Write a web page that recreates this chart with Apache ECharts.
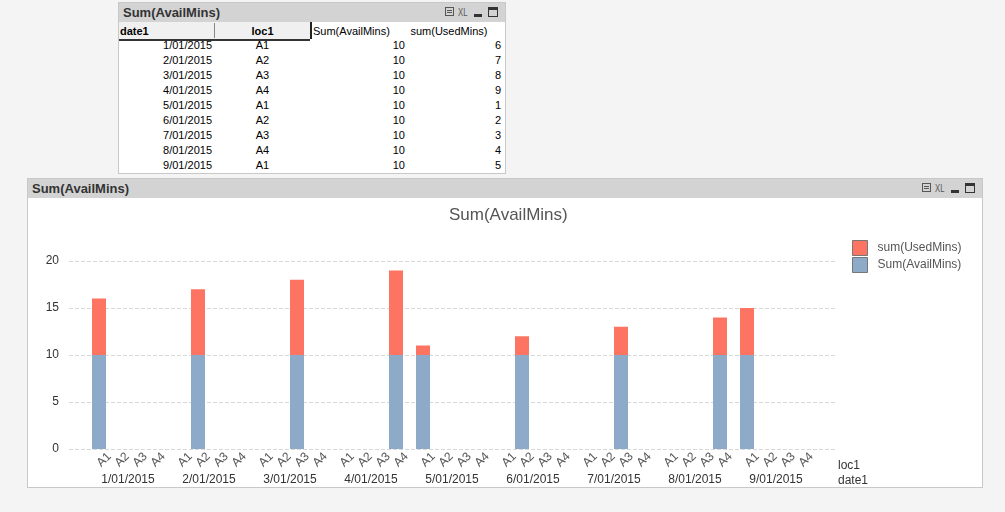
<!DOCTYPE html>
<html>
<head>
<meta charset="utf-8">
<script src="https://cdn.jsdelivr.net/npm/echarts@6/dist/echarts.min.js"></script>
<style>
  html, body { margin:0; padding:0; width:1005px; height:512px; background:#f4f4f4; overflow:hidden;
    font-family:"Liberation Sans", Arial, sans-serif; -webkit-font-smoothing:antialiased; }
  .win { position:absolute; background:#fff; border:1px solid #c8c8c8; box-sizing:border-box; }
  .cap { position:absolute; left:0; right:0; top:0; height:19px; background:#d3d3d3; }
  .cap .t { position:absolute; left:4px; top:2px; font-weight:bold; font-size:13px; color:#333; }
  .icons { position:absolute; right:4px; top:3px; height:13px; }
  .icons span { position:absolute; top:0; }
  .prn { width:9px; height:9px; border:1px solid #555; box-sizing:border-box; top:1px !important; }
  .prn:after { content:""; position:absolute; left:1px; top:2px; width:5px; height:1px; background:#555; box-shadow:0 2px 0 #555; }
  .xl { font-size:11px; color:#555; transform:scaleX(0.7); transform-origin:left top; letter-spacing:0; }
  .min { width:8px; height:3px; background:#333; top:8px !important; }
  .max { width:10px; height:10px; border:1px solid #333; border-top-width:3px; box-sizing:border-box; top:1px !important; }
  .hd { position:absolute; top:19px; height:18px; font-size:11px; line-height:18px; color:#000; }
  .row { position:absolute; font-size:11px; height:15px; line-height:15px; color:#000; }
  #chart { position:absolute; left:0; top:0; width:1005px; height:512px; z-index:5; }
</style>
</head>
<body>
<div class="win" id="tblwin" style="left:118px; top:2px; width:388px; height:172px;">
  <div class="cap"><div class="t">Sum(AvailMins)</div>
    <div class="icons" style="width:56px;">
      <span class="prn" style="left:0;"></span>
      <span class="xl" style="left:13px;">XL</span>
      <span class="min" style="left:29px;"></span>
      <span class="max" style="left:43px;"></span>
    </div>
  </div>
  <div id="thead"></div>
  <div id="tbody"></div>
</div>

<div class="win" id="chartwin" style="left:27px; top:178px; width:956px; height:310px;">
  <div class="cap"><div class="t">Sum(AvailMins)</div>
    <div class="icons" style="width:56px;">
      <span class="prn" style="left:0;"></span>
      <span class="xl" style="left:13px;">XL</span>
      <span class="min" style="left:29px;"></span>
      <span class="max" style="left:43px;"></span>
    </div>
  </div>
</div>

<div id="chart"></div>

<script>
// ---------- data ----------
const dates = ['1/01/2015','2/01/2015','3/01/2015','4/01/2015','5/01/2015','6/01/2015','7/01/2015','8/01/2015','9/01/2015'];
const locs = ['A1','A2','A3','A4'];
const rowLoc = ['A1','A2','A3','A4','A1','A2','A3','A4','A1'];
const availMins = [10,10,10,10,10,10,10,10,10];
const usedMins = [6,7,8,9,1,2,3,4,5];
const yTicks = [0,5,10,15,20];
const tableHeaders = ['date1','loc1','Sum(AvailMins)','sum(UsedMins)'];
const chartTitle = 'Sum(AvailMins)';
const legendNames = ['sum(UsedMins)','Sum(AvailMins)'];

// ---------- table (top window) ----------
(function(){
  const head = document.getElementById('thead');
  head.innerHTML =
    '<div style="position:absolute;left:0;top:19px;width:191px;height:17px;background:#f0f0f0;border-bottom:2px solid #333;"></div>' +
    '<div style="position:absolute;left:95px;top:20px;width:1px;height:15px;background:#888;"></div>' +
    '<div style="position:absolute;left:191px;top:19px;width:2px;height:17px;background:#222;"></div>' +
    '<div class="hd" style="left:1px;font-weight:bold;">'+tableHeaders[0]+'</div>' +
    '<div class="hd" style="left:96px;width:95px;text-align:center;font-weight:bold;">'+tableHeaders[1]+'</div>' +
    '<div class="hd" style="left:194px;">'+tableHeaders[2]+'</div>' +
    '<div class="hd" style="left:290px;width:80px;text-align:center;">'+tableHeaders[3]+'</div>';
  const body = document.getElementById('tbody');
  let html = '';
  dates.forEach((d, r) => {
    const top = 35 + r*15;
    html += '<div class="row" style="top:'+top+'px;left:0;width:93px;text-align:right;">'+d+'</div>';
    html += '<div class="row" style="top:'+top+'px;left:96px;width:95px;text-align:center;">'+rowLoc[r]+'</div>';
    html += '<div class="row" style="top:'+top+'px;left:194px;width:92px;text-align:right;">'+availMins[r]+'</div>';
    html += '<div class="row" style="top:'+top+'px;left:290px;width:92px;text-align:right;">'+usedMins[r]+'</div>';
  });
  body.innerHTML = html;
})();

// ---------- chart ----------
const groupStep = locs.length + 0.5;          // 4 slots + half-slot gap between dates
const slotOf = (g, i) => g * groupStep + i;
const XMIN = -30/18, XMAX = XMIN + 766/18;

const locLabelMap = {};
const locValues = [];
dates.forEach((d, g) => locs.forEach((l, i) => {
  const v = slotOf(g, i); locValues.push(v); locLabelMap[String(v)] = l;
}));
const dateLabelMap = {};
const dateValues = dates.map((d, g) => {
  const v = slotOf(g, (locs.length - 1) / 2); dateLabelMap[String(v)] = d; return v;
});

// stacked: lower segment = availMins, upper segment drawn as total (avail + used) behind it
const availData = dates.map((d, g) => [slotOf(g, locs.indexOf(rowLoc[g])), availMins[g]]);
const stackTopData = dates.map((d, g) => [slotOf(g, locs.indexOf(rowLoc[g])), availMins[g] + usedMins[g]]);

const FONT = '"Liberation Sans", Arial, sans-serif';
const chart = echarts.init(document.getElementById('chart'), null, { renderer: 'canvas' });
chart.setOption({
  animation: false,
  backgroundColor: 'transparent',
  title: {
    text: chartTitle, left: 444, top: 202,
    textStyle: { fontFamily: FONT, fontSize: 17, fontWeight: 'normal', color: '#555' }
  },
  legend: {
    orient: 'vertical', left: 852, top: 240, padding: 0, itemWidth: 15, itemHeight: 15, itemGap: 1,
    icon: 'rect', data: legendNames,
    itemStyle: { borderColor: '#777', borderWidth: 1 },
    textStyle: { fontFamily: FONT, fontSize: 12, color: '#555', padding: [0,0,0,5] }
  },
  grid: { left: 69, right: 170, top: 261, bottom: 63, containLabel: false, outerBoundsMode: 'none' },
  xAxis: [
    { type: 'value', min: XMIN, max: XMAX,
      axisLine: { show: false }, axisTick: { show: false }, splitLine: { show: false },
      axisLabel: { customValues: locValues, rotate: 45, align: 'left', margin: 16,
        formatter: v => locLabelMap[String(v)] || '',
        fontFamily: FONT, fontSize: 12, color: '#555' } },
    { type: 'value', min: XMIN, max: XMAX, position: 'bottom',
      axisLine: { show: false }, axisTick: { show: false }, splitLine: { show: false },
      axisLabel: { customValues: dateValues, margin: 25, padding: [0,0,0,4],
        formatter: v => dateLabelMap[String(v)] || '',
        fontFamily: FONT, fontSize: 12, color: '#333' } }
  ],
  yAxis: {
    type: 'value', min: yTicks[0], max: yTicks[yTicks.length-1], interval: yTicks[1]-yTicks[0],
    axisLine: { show: false }, axisTick: { show: false },
    axisLabel: { margin: 10, fontFamily: FONT, fontSize: 12, color: '#333' },
    splitLine: { lineStyle: { color: '#d8d8d8', type: [4,2], width: 1 } }
  },
  graphic: [
    { type: 'text', left: 838, top: 460, style: { text: 'loc1', font: '12px ' + FONT, fill: '#333' } },
    { type: 'text', left: 838, top: 475, style: { text: 'date1', font: '12px ' + FONT, fill: '#333' } }
  ],
  series: [
    { name: legendNames[0], type: 'bar', barWidth: 14, barGap: '-100%', data: stackTopData, z: 2,
      itemStyle: { color: '#fd7462' } },
    { name: legendNames[1], type: 'bar', barWidth: 14, barGap: '-100%', data: availData, z: 3,
      itemStyle: { color: '#8eaac9' } }
  ]
});
</script>
</body>
</html>
